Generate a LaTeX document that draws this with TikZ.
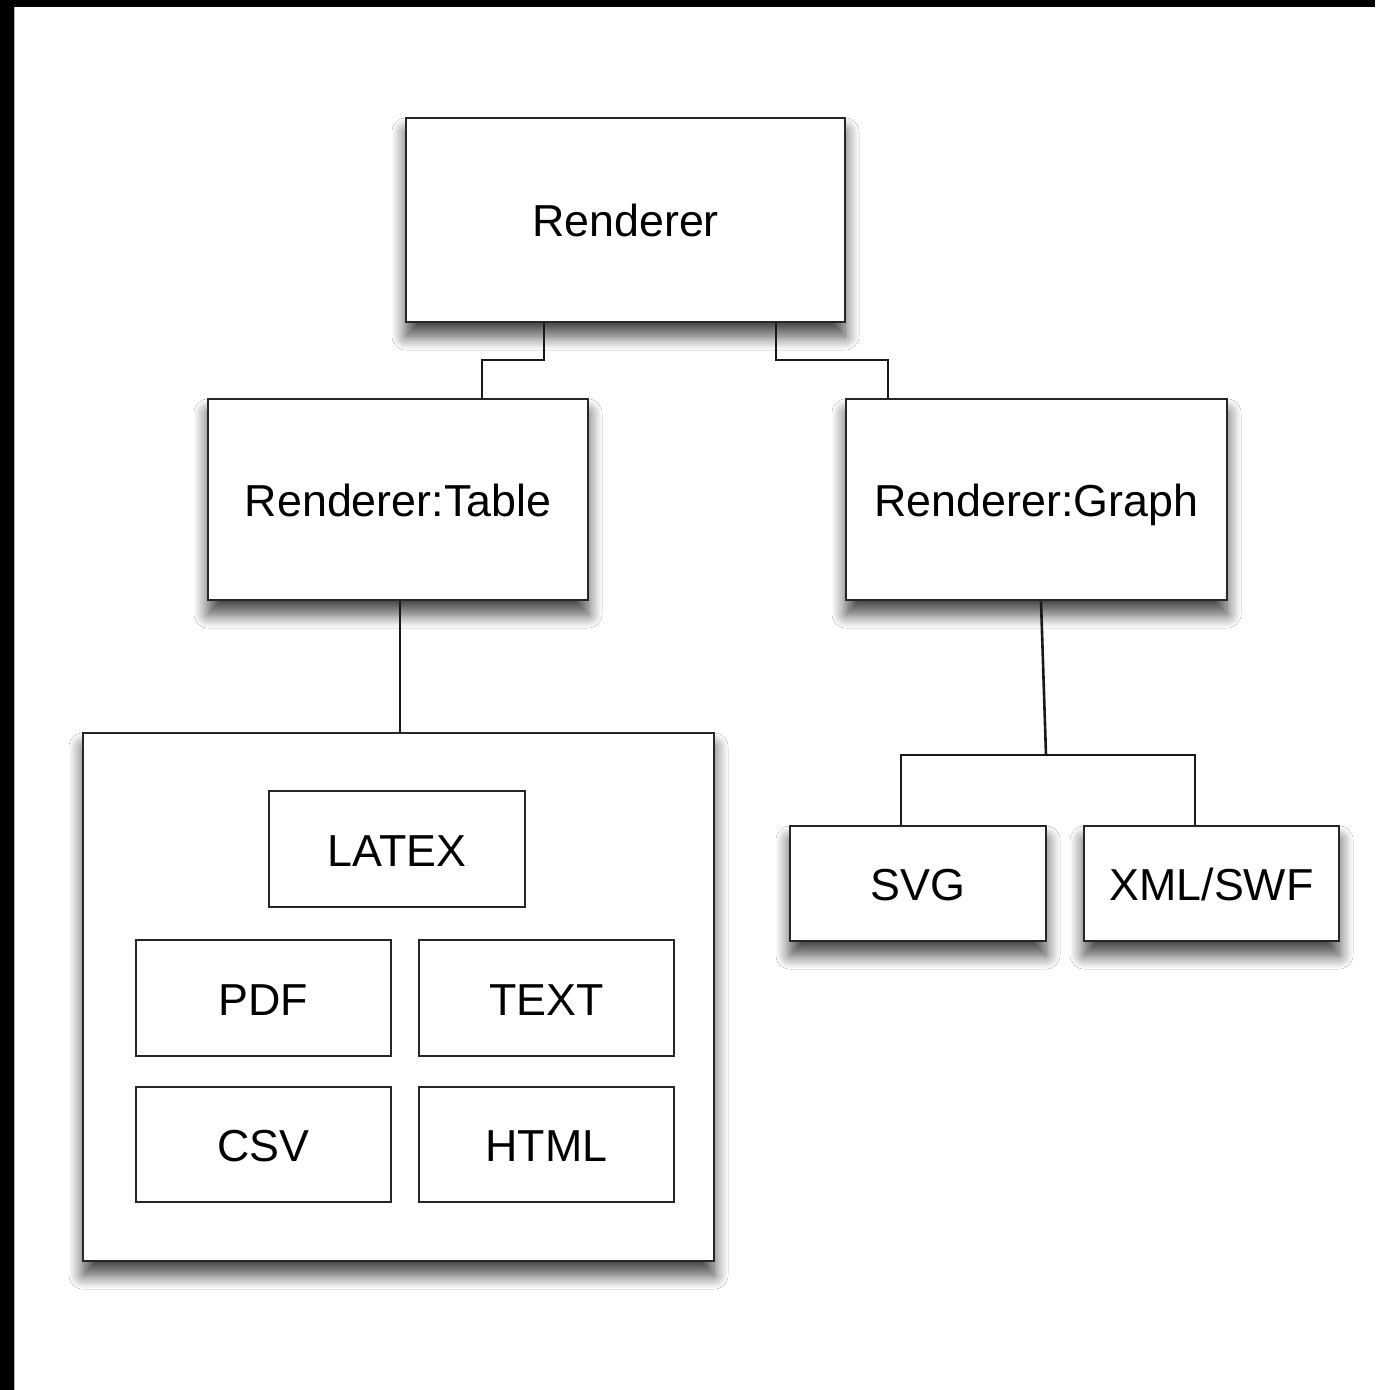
\documentclass[tikz,border=0pt]{standalone}
\usepackage{fontspec}
\setmainfont{Liberation Sans}
\usetikzlibrary{shadows.blur}
\begin{document}
\begin{tikzpicture}[x=0.5pt,y=-0.5pt,
  box/.style={draw=black!85,line width=1.4pt,fill=white,inner sep=0pt,
    text height=17pt,text depth=0pt,
    font=\fontsize{22.4}{26}\selectfont},
  sbox/.style={box,blur shadow={shadow xshift=0pt,shadow yshift=-7pt,shadow blur steps=12,shadow blur radius=7pt,shadow opacity=75}},
  wire/.style={draw=black!90,line width=1.3pt}]
\useasboundingbox (0,0) rectangle (1375,1390);
\fill[white] (0,0) rectangle (1375,1390);
\fill[black] (0,0) rectangle (1375,7);
\fill[black] (0,0) rectangle (14,1390);
\draw[black!30,line width=0.6pt] (14.5,7) -- (14.5,1390);
% outer boxes
\node[sbox,minimum width=439*0.5pt,minimum height=204*0.5pt] (r) at (625.5,220) {Renderer};
\node[sbox,minimum width=380*0.5pt,minimum height=201*0.5pt] (t) at (398,499.5) {Renderer:Table};
\node[sbox,minimum width=381*0.5pt,minimum height=201*0.5pt] (g) at (1036.5,499.5) {Renderer:Graph};
\node[sbox,minimum width=631*0.5pt,minimum height=528*0.5pt] (c) at (398.5,997) {};
\node[sbox,minimum width=256*0.5pt,minimum height=115*0.5pt] (svg) at (918,883.5) {SVG};
\node[sbox,minimum width=255*0.5pt,minimum height=115*0.5pt] (xml) at (1211.5,883.5) {XML/SWF};
% inner boxes
\node[box,minimum width=256*0.5pt,minimum height=116*0.5pt] (latex) at (397,849) {LATEX};
\node[box,minimum width=255*0.5pt,minimum height=116*0.5pt] (pdf) at (263.5,998) {PDF};
\node[box,minimum width=255*0.5pt,minimum height=116*0.5pt] (text) at (546.5,998) {TEXT};
\node[box,minimum width=255*0.5pt,minimum height=115*0.5pt] (csv) at (263.5,1144.5) {CSV};
\node[box,minimum width=255*0.5pt,minimum height=115*0.5pt] (html) at (546.5,1144.5) {HTML};
% connectors
\coordinate (j) at (1046,755);
\draw[wire] (r.south -| 544,0) -- (544,360) -- (482,360) -- (t.north -| 482,0);
\draw[wire] (r.south -| 776,0) -- (776,360) -- (888,360) -- (g.north -| 888,0);
\draw[wire] (t.south -| 400,0) -- (c.north -| 400,0);
\draw[wire] (g.south -| 1041,0) -- (j);
\draw[wire] (svg.north -| 901,0) -- (901,755) -- (1195,755) -- (xml.north -| 1195,0);
\end{tikzpicture}
\end{document}
